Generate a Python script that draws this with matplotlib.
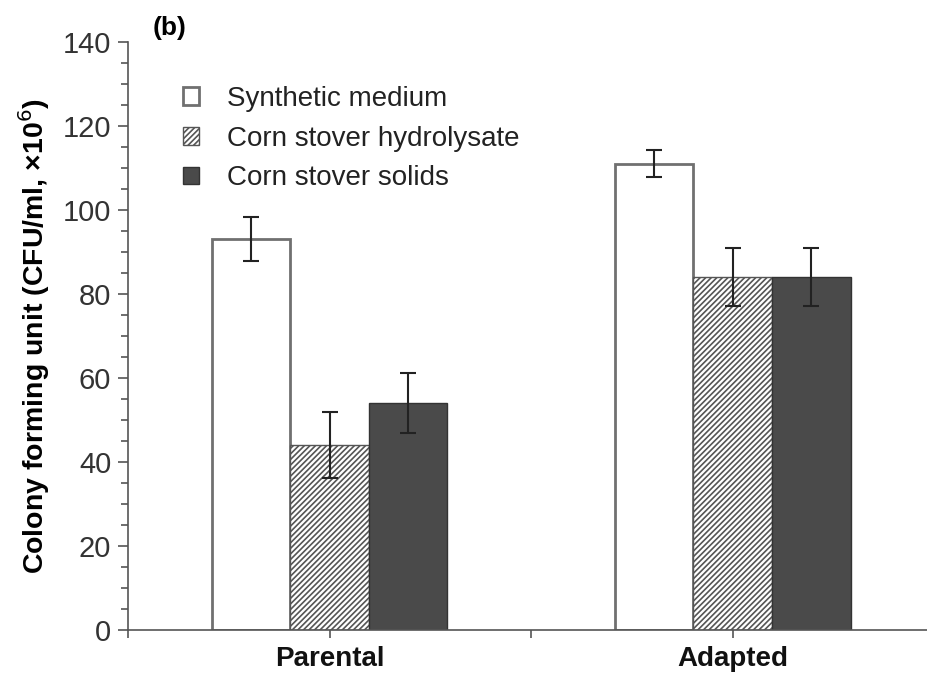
import matplotlib.pyplot as plt
import numpy as np

plt.rcParams['font.family'] = ['Liberation Sans', 'DejaVu Sans']
plt.rcParams['hatch.color'] = '#555555'
plt.rcParams['hatch.linewidth'] = 1.2

groups = ["Parental", "Adapted"]
series = ["Synthetic medium", "Corn stover hydrolysate", "Corn stover solids"]
values = [[93, 111], [44, 84], [54, 84]]
errors = [[5.2, 3.2], [7.8, 6.8], [7.2, 6.8]]

fig = plt.figure(figsize=(9.27, 6.75), dpi=100)
ax = fig.add_axes([0.138, 0.067, 0.87, 0.871])

x = np.arange(len(groups))
w = 0.195
styles = [
    dict(color='white', edgecolor='#707070', linewidth=2),
    dict(color='white', edgecolor='#555555', hatch='//////', linewidth=1),
    dict(color='#4a4a4a', edgecolor='#333333', linewidth=1),
]
for i, name in enumerate(series):
    ax.bar(x + (i - 1) * w, values[i], w, label=name, zorder=2, **styles[i])
    ax.errorbar(x + (i - 1) * w, values[i], yerr=errors[i], fmt='none',
                ecolor='#222222', elinewidth=1.5, capsize=6, capthick=1.5, zorder=3)

ax.set_xlim(-0.5, 1.5)
ax.set_ylim(0, 140)
ax.set_yticks(np.arange(0, 141, 20))
ax.set_yticks(np.arange(0, 141, 5), minor=True)
ax.set_xticks(x)
ax.set_xticks([-0.5, 0.5, 1.5], minor=True)
ax.set_xticklabels(groups, fontsize=20, fontweight='bold', color='#111111')
ax.tick_params(axis='y', labelsize=21, labelcolor='#333333', length=7, width=1.2,
               color='#555555', pad=5)
ax.tick_params(axis='y', which='minor', length=5, width=1.2, color='#555555')
ax.tick_params(axis='x', which='both', length=6, width=1.2, color='#555555', pad=6)
for s in ['top', 'right']:
    ax.spines[s].set_visible(False)
for s in ['left', 'bottom']:
    ax.spines[s].set_color('#555555')
    ax.spines[s].set_linewidth(1.2)

ax.set_ylabel("Colony forming unit (CFU/ml, \u00d710$^6$)", fontsize=20.5,
              fontweight='bold', labelpad=8)
fig.text(0.165, 0.948, "(b)", fontsize=19, fontweight='bold')

ax.legend(loc='upper left', bbox_to_anchor=(0.037, 0.968), frameon=False,
          fontsize=20, handlelength=0.6, handleheight=0.6, handletextpad=1.0,
          labelspacing=0.5, labelcolor='#222222')

fig.savefig("out.png", dpi=100)
